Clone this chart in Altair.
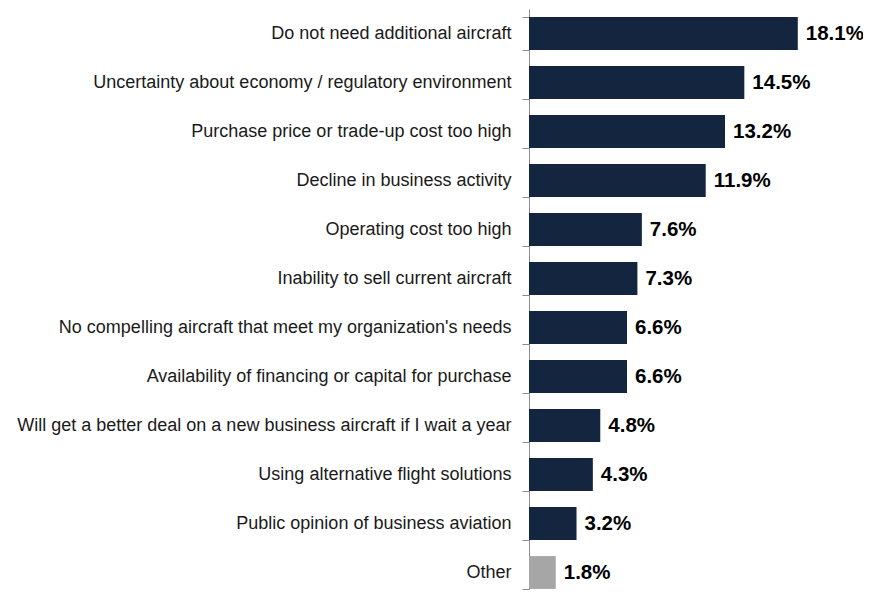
import altair as alt
import pandas as pd

categories = [
    "Do not need additional aircraft",
    "Uncertainty about economy / regulatory environment",
    "Purchase price or trade-up cost too high",
    "Decline in business activity",
    "Operating cost too high",
    "Inability to sell current aircraft",
    "No compelling aircraft that meet my organization's needs",
    "Availability of financing or capital for purchase",
    "Will get a better deal on a new business aircraft if I wait a year",
    "Using alternative flight solutions",
    "Public opinion of business aviation",
    "Other",
]
values = [18.1, 14.5, 13.2, 11.9, 7.6, 7.3, 6.6, 6.6, 4.8, 4.3, 3.2, 1.8]
groups = ["main"] * 11 + ["other"]

df = pd.DataFrame({"cat": categories, "val": values, "grp": groups})
df["label"] = df["val"].map(lambda v: f"{v:.1f}%")

y = alt.Y("cat:N", sort=categories, title=None,
          scale=alt.Scale(paddingInner=0.33, paddingOuter=0.165),
          axis=alt.Axis(labelFont="Liberation Sans", labelFontSize=18, labelColor="#1a1a1a",
                        labelPadding=11, tickSize=7, tickColor="#8c8c8c", domainColor="#8c8c8c",
                        tickBand="extent", labelLimit=600))
x = alt.X("val:Q", title=None, scale=alt.Scale(domain=[0, 20]), axis=None)

bars = alt.Chart(df).mark_bar().encode(
    x=x, y=y,
    color=alt.Color("grp:N", scale=alt.Scale(domain=["main", "other"], range=["#13253f", "#a6a6a6"]), legend=None),
)
text = alt.Chart(df).mark_text(align="left", dx=8, font="Liberation Sans", fontWeight="bold",
                               fontSize=20.5, color="#000000").encode(x=x, y=y, text="label:N")

chart = (bars + text).properties(
    width=297, height=588,
    padding={"left": 521, "top": 1, "right": 37, "bottom": -7},
    autosize=alt.AutoSizeParams(type="none"),
).configure_view(stroke=None)

chart.save("out.html", embed_options={"renderer": "svg", "actions": False})
